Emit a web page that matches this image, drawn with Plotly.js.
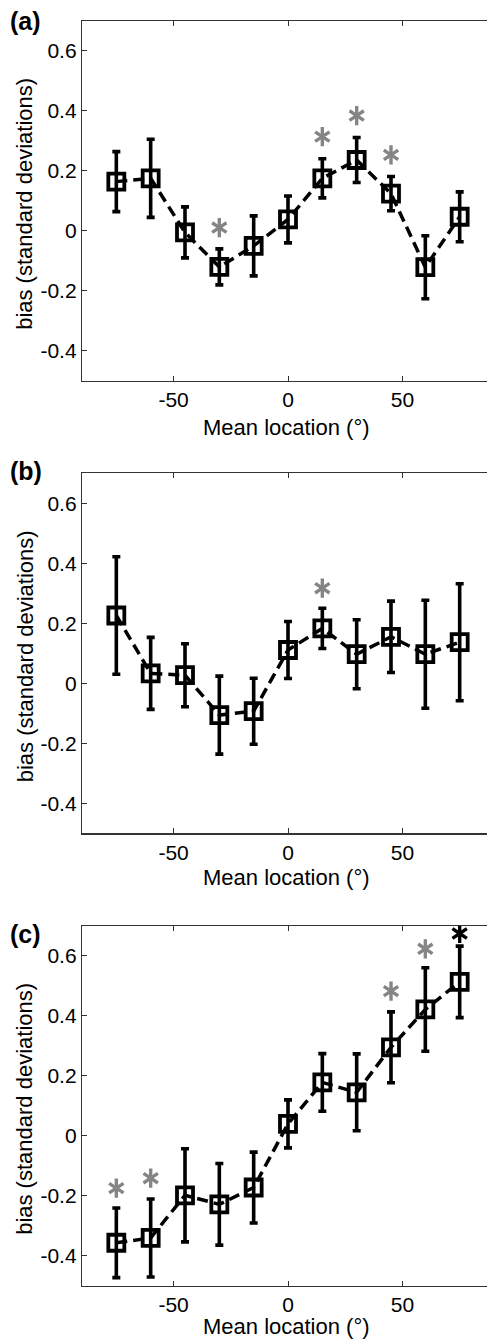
<!DOCTYPE html>
<html>
<head>
<meta charset="utf-8">
<script src="https://cdn.plot.ly/plotly-3.0.1.min.js"></script>
<style>
  html, body { margin: 0; padding: 0; background: #fff; overflow: hidden; }
  #chart { width: 494px; height: 1339px; }
</style>
</head>
<body>
<div id="chart"></div>
<script>
// ---- data ----
const meanLocation = [-75, -60, -45, -30, -15, 0, 15, 30, 45, 60, 75];

const biasA = [0.164, 0.175, -0.005, -0.120, -0.050, 0.038, 0.175, 0.236, 0.124, -0.121, 0.047];
const errA  = [0.100, 0.130, 0.085, 0.060, 0.100, 0.078, 0.065, 0.075, 0.057, 0.105, 0.083];

const biasB = [0.226, 0.033, 0.027, -0.106, -0.093, 0.111, 0.183, 0.097, 0.155, 0.097, 0.137];
const errB  = [0.196, 0.120, 0.105, 0.130, 0.110, 0.095, 0.067, 0.115, 0.119, 0.180, 0.195];

const biasC = [-0.356, -0.340, -0.198, -0.228, -0.172, 0.040, 0.178, 0.145, 0.295, 0.421, 0.513];
const errC  = [0.116, 0.130, 0.155, 0.136, 0.118, 0.080, 0.096, 0.128, 0.118, 0.139, 0.119];

// significance asterisks (x, y of the star)
const starGrayAx = [-30, 15, 30, 45];
const starGrayAy = [0.011, 0.314, 0.384, 0.253];
const starGrayBx = [15];
const starGrayBy = [0.317];
const starGrayCx = [-75, -60, 45, 60];
const starGrayCy = [-0.174, -0.141, 0.482, 0.623];
const starBlackCx = [75];
const starBlackCy = [0.674];

const xTickVals = [-50, 0, 50];
const xTickText = ['-50', '0', '50'];
const yTickVals = [-0.4, -0.2, 0, 0.2, 0.4, 0.6];
const yTickText = ['-0.4', '-0.2', '0', '0.2', '0.4', '0.6'];

const panelLabels = ['(a)', '(b)', '(c)'];
const xTitle = 'Mean location (°)';
const yTitle = 'bias (standard deviations)';

// ---- layout geometry ----
const H = 1339;
const FONT = '"Liberation Sans", Arial, Helvetica, sans-serif';
const GRAY = '#858585';
const panelPx = [[20.7, 381], [473.3, 833.3], [925.7, 1286]];   // top, bottom in px
const labelPx = [21, 471, 934];
const xTitlePx = [427, 877, 1326];
const p = v => (H - v) / H;

const traces = [];
function addPanel(i, bias, err, stars) {
  const xa = i === 0 ? 'x' : 'x' + (i + 1);
  const ya = i === 0 ? 'y' : 'y' + (i + 1);
  traces.push({
    x: meanLocation, y: bias, xaxis: xa, yaxis: ya,
    type: 'scatter', mode: 'lines+markers',
    line: { color: '#000', width: 3.5, dash: '11px,6px' },
    marker: { symbol: 'square-open', size: 16, color: '#000', line: { width: 3.8, color: '#000' } },
    error_y: { type: 'data', array: err, visible: true, color: '#000', thickness: 3.6, width: 4 },
    hoverinfo: 'skip', showlegend: false
  });
  stars.forEach(s => {
    ['y-up-open', 'y-down-open'].forEach(sym => {
      traces.push({
        x: s.x, y: s.y, xaxis: xa, yaxis: ya, type: 'scatter', mode: 'markers',
        marker: { symbol: sym, size: 12, color: s.c, line: { width: 3.4, color: s.c } },
        hoverinfo: 'skip', showlegend: false
      });
    });
  });
}
addPanel(0, biasA, errA, [{ x: starGrayAx, y: starGrayAy, c: GRAY }]);
addPanel(1, biasB, errB, [{ x: starGrayBx, y: starGrayBy, c: GRAY }]);
addPanel(2, biasC, errC, [{ x: starGrayCx, y: starGrayCy, c: GRAY }, { x: starBlackCx, y: starBlackCy, c: '#000' }]);

const layout = {
  width: 494, height: H,
  margin: { l: 82, r: 0, t: 0, b: 0 },
  paper_bgcolor: '#fff', plot_bgcolor: '#fff',
  font: { family: FONT, color: '#000', size: 21 },
  showlegend: false,
  annotations: []
};
for (let i = 0; i < 3; i++) {
  const s = i === 0 ? '' : String(i + 1);
  const [top, bot] = panelPx[i];
  layout['xaxis' + s] = {
    domain: [0, 1], range: [-90, 90], anchor: 'y' + s,
    tickmode: 'array', tickvals: xTickVals, ticktext: xTickText,
    ticks: 'inside', ticklen: 5, tickwidth: 1, tickcolor: '#333',
    showline: true, linecolor: '#333', linewidth: 1.2, mirror: 'ticks',
    showgrid: false, zeroline: false, fixedrange: true,
    tickfont: { family: FONT, size: 21, color: '#000' }
  };
  layout['yaxis' + s] = {
    domain: [p(bot), p(top)], range: [-0.5, 0.7], anchor: 'x' + s,
    tickmode: 'array', tickvals: yTickVals, ticktext: yTickText,
    ticks: 'inside', ticklen: 5, tickwidth: 1, tickcolor: '#333',
    showline: true, linecolor: '#333', linewidth: 1.2, mirror: 'ticks',
    showgrid: false, zeroline: false, fixedrange: true,
    tickfont: { family: FONT, size: 21, color: '#000' }
  };
  layout.annotations.push({
    text: panelLabels[i], xref: 'paper', yref: 'paper',
    x: -82 / 412 + 8 / 412, xanchor: 'left', y: p(labelPx[i]), yanchor: 'middle',
    showarrow: false, font: { family: FONT, size: 25, color: '#000', weight: 'bold' }
  });
  layout.annotations.push({
    text: xTitle, xref: 'paper', yref: 'paper',
    x: 0.5 - 2 / 412, xanchor: 'center', y: p(xTitlePx[i]), yanchor: 'middle',
    showarrow: false, font: { family: FONT, size: 22, color: '#000' }
  });
  layout.annotations.push({
    text: yTitle, xref: 'paper', yref: 'paper', textangle: -90,
    x: (25 - 82) / 412, xanchor: 'center', y: p((top + bot) / 2 + 3), yanchor: 'middle',
    showarrow: false, font: { family: FONT, size: 22, color: '#000' }
  });
}

Plotly.newPlot('chart', traces, layout, { staticPlot: true, displayModeBar: false });
</script>
</body>
</html>
